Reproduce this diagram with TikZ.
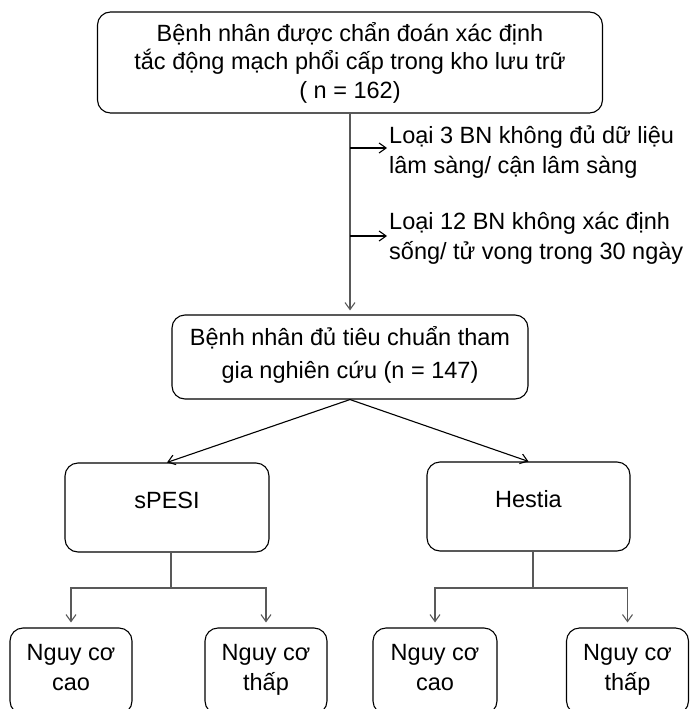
\documentclass[tikz,border=0pt]{standalone}
\usepackage{fontspec}
\setmainfont{Liberation Sans}
\usetikzlibrary{arrows.meta}
\begin{document}
\begin{tikzpicture}[x=1pt,y=-1pt,
  box/.style={draw=black,line width=1.1pt,rounded corners=13pt,align=center,inner sep=0pt,
    font=\fontsize{23.5}{28.5}\selectfont},
  small/.style={box,minimum height=86pt,text height=47pt,text depth=9pt,
    font=\fontsize{23.5}{30}\selectfont},
  mid/.style={box,minimum height=89pt,text height=17pt,text depth=16pt},
  conn/.style={draw=black!65,line width=1.2pt},
  arr/.style={-{Straight Barb[length=7pt,width=10pt]},line width=1.1pt},
  side/.style={anchor=base west,align=left,inner sep=0pt,font=\fontsize{23.5}{30}\selectfont}]
\useasboundingbox (0,0) rectangle (692,709);
\clip (0,0) rectangle (692,709);
\node[box,minimum width=505pt,minimum height=101pt] (top) at (350,62.5)
  {Bệnh nhân được chẩn đoán xác định\\tắc động mạch phổi cấp trong kho lưu trữ\\( n = 162)};
\node[box,minimum width=356pt,minimum height=84pt,text height=50pt,text depth=8pt,
  font=\fontsize{23.5}{33}\selectfont] (mid) at (350,357)
  {Bệnh nhân đủ tiêu chuẩn tham\\gia nghiên cứu (n = 147)};
\node[side] (ex1) at (389,173) {Loại 3 BN không đủ dữ liệu\\lâm sàng/ cận lâm sàng};
\node[side] (ex2) at (389,259.5) {Loại 12 BN không xác định\\sống/ tử vong trong 30 ngày};
\node[mid,minimum width=204pt] (spesi) at (167,507.5) {sPESI};
\node[mid,minimum width=203pt] (hestia) at (528.5,506.5) {Hestia};
\node[small,minimum width=122pt] (b1) at (71,671) {Nguy cơ\\cao};
\node[small,minimum width=122pt] (b2) at (266,671) {Nguy cơ\\thấp};
\node[small,minimum width=124pt] (b3) at (435,671) {Nguy cơ\\cao};
\node[small,minimum width=122pt] (b4) at (627.5,671) {Nguy cơ\\thấp};
\coordinate (s1) at (350,148);
\coordinate (e1) at (387,148);
\coordinate (s2) at (350,236);
\coordinate (e2) at (387,236);
\coordinate (j1) at (171,588);
\coordinate (j2) at (533,588);
% connectors
\draw[conn,arr,shorten >=4pt] (top.south) -- (mid.north);
\draw[arr,draw=black] (s1) -- (e1);
\draw[arr,draw=black] (s2) -- (e2);
\draw[arr,draw=black] (mid.south) -- (spesi.north);
\draw[arr,draw=black] (mid.south) -- (hestia.north);
\draw[conn] (spesi.south -| j1) -- (j1);
\draw[conn] (hestia.south -| j2) -- (j2);
\draw[conn,arr,shorten >=5pt] (j1) -| (b1.north);
\draw[conn,arr,shorten >=5pt] (j1) -| (b2.north);
\draw[conn,arr,shorten >=5pt] (j2) -| (b3.north);
\draw[conn,arr,shorten >=5pt] (j2) -| (b4.north);
\end{tikzpicture}
\end{document}
